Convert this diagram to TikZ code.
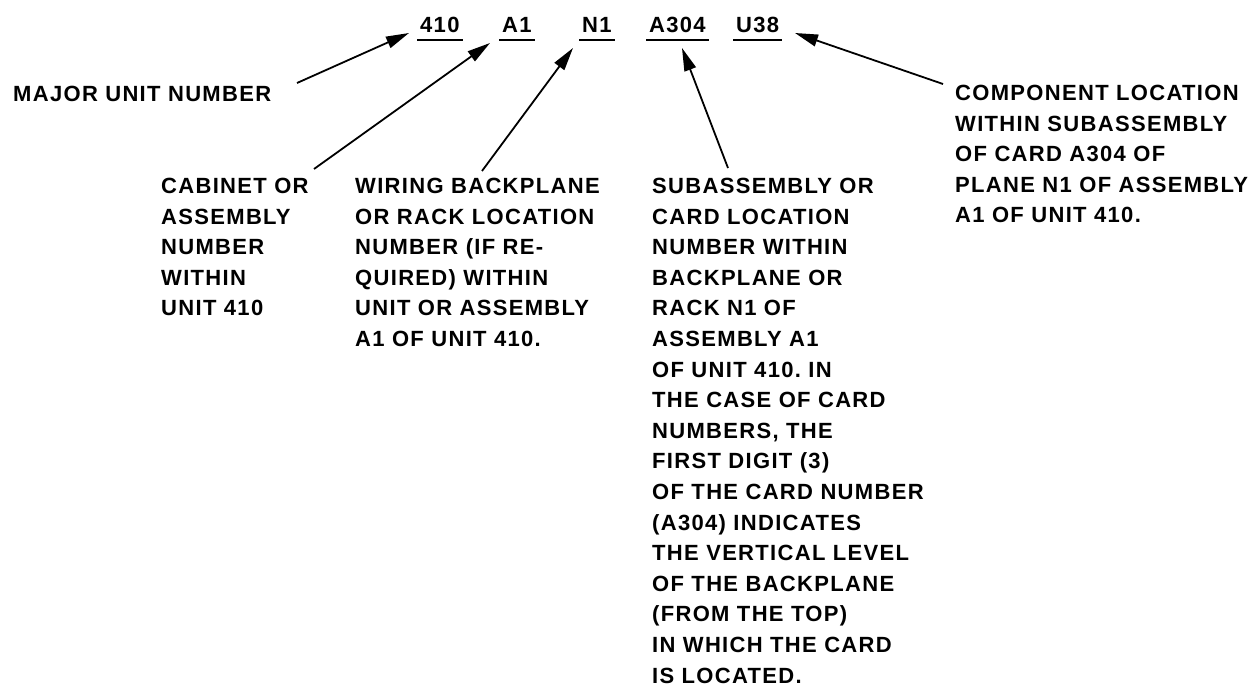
\documentclass[tikz,border=0pt]{standalone}
\usepackage{fontspec}
\newfontfamily\lblfont{Liberation Sans}[LetterSpace=6]
\usetikzlibrary{arrows.meta}
\frenchspacing
\begin{document}
\begin{tikzpicture}[x=1pt,y=-1pt,
  txt/.style={font=\lblfont\bfseries\fontsize{22}{30.6}\selectfont\frenchspacing, inner sep=0pt, align=left, anchor=north west},
  code/.style={font=\lblfont\bfseries\fontsize{22}{25}\selectfont, inner xsep=3pt, inner ysep=0pt, anchor=base west},
  uline/.style={line width=2pt},
  ptr/.style={line width=1.8pt, -{Triangle[length=23pt,width=12pt]}}]
\useasboundingbox (0,0) rectangle (1259,699);

% code labels
\node[code] (c410) at (417,32) {410};
\node[code] (cA1) at (499,32) {A1};
\node[code] (cN1) at (579,32) {N1};
\node[code] (cA304) at (646,32) {A304};
\node[code] (cU38) at (733,32) {U38};
\foreach \n in {c410,cA1,cN1,cA304,cU38}
  \draw[uline] ([yshift=-8pt]\n.base west) -- ([yshift=-8pt]\n.base east);

% descriptions
\node[txt] (major) at (13,86) {MAJOR UNIT NUMBER};
\node[txt] (cab) at (161,178) {CABINET OR\\ASSEMBLY\\NUMBER\\WITHIN\\UNIT 410};
\node[txt] (wir) at (355,178) {WIRING BACKPLANE\\OR RACK LOCATION\\NUMBER (IF RE-\\QUIRED) WITHIN\\UNIT OR ASSEMBLY\\A1 OF UNIT 410.};
\node[txt] (sub) at (652,178) {SUBASSEMBLY OR\\CARD LOCATION\\NUMBER WITHIN\\BACKPLANE OR\\RACK N1 OF\\ASSEMBLY A1\\OF UNIT 410. IN\\THE CASE OF CARD\\NUMBERS, THE\\FIRST DIGIT (3)\\OF THE CARD NUMBER\\(A304) INDICATES\\THE VERTICAL LEVEL\\OF THE BACKPLANE\\(FROM THE TOP)\\IN WHICH THE CARD\\IS LOCATED.};
\node[txt] (comp) at (955,85) {COMPONENT LOCATION\\WITHIN SUBASSEMBLY\\OF CARD A304 OF\\PLANE N1 OF ASSEMBLY\\A1 OF UNIT 410.};

% connector ends
\coordinate (t1) at (297,83);  \coordinate (h1) at (409,33);
\coordinate (t2) at (314,169); \coordinate (h2) at (490,43);
\coordinate (t3) at (482,171); \coordinate (h3) at (573,48);
\coordinate (t4) at (728,168); \coordinate (h4) at (682,48);
\coordinate (t5) at (943,84);  \coordinate (h5) at (795,33);

\draw[ptr] (t1) -- (h1);
\draw[ptr] (t2) -- (h2);
\draw[ptr] (t3) -- (h3);
\draw[ptr] (t4) -- (h4);
\draw[ptr] (t5) -- (h5);
\end{tikzpicture}
\end{document}
